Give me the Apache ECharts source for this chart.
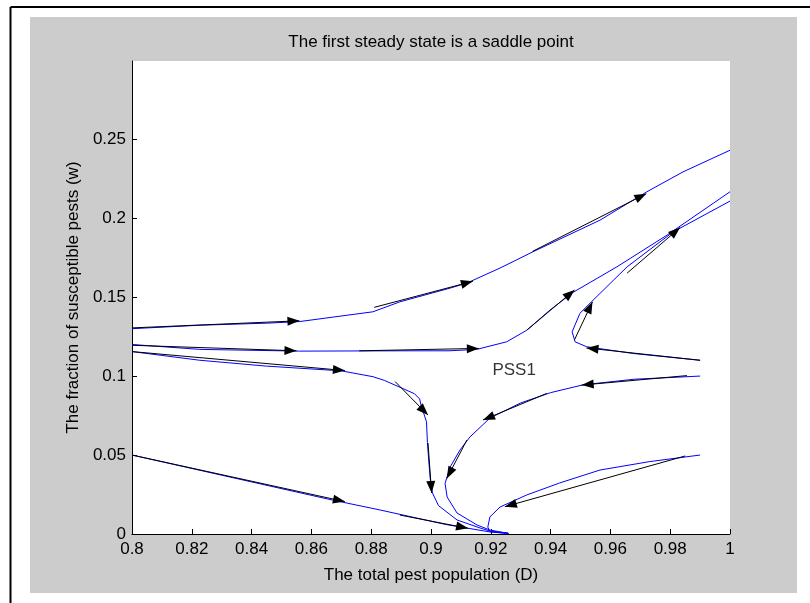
<!DOCTYPE html>
<html>
<head>
<meta charset="utf-8">
<script src="https://cdn.jsdelivr.net/npm/echarts@6/dist/echarts.min.js"></script>
<style>
html,body{margin:0;padding:0;background:#fff;}
#chart{width:810px;height:603px;}
</style>
</head>
<body>
<div id="chart"></div>
<script>
// ---- data ----
var titleText = 'The first steady state is a saddle point';
var xName = 'The total pest population (D)';
var yName = 'The fraction of susceptible pests (w)';
var xTicks = [0.8, 0.82, 0.84, 0.86, 0.88, 0.9, 0.92, 0.94, 0.96, 0.98, 1];
var yTicks = [0, 0.05, 0.1, 0.15, 0.2, 0.25];

var curveA = [[0.8,0.13],[0.8227,0.1322],[0.845,0.1335],[0.856,0.1345],[0.8806,0.1407],[0.8896,0.147],[0.9064,0.1557],[0.912,0.1589],[0.9231,0.1684],[0.9341,0.1787],[0.9565,0.1987],[0.9722,0.2167],[0.9843,0.2293],[1.0,0.243]];
var curveB = [[0.8,0.12],[0.8227,0.1169],[0.856,0.1158],[0.89,0.116],[0.906,0.116],[0.9153,0.1169],[0.9253,0.1217],[0.932,0.129],[0.9398,0.1418],[0.9475,0.153],[0.9622,0.1692],[0.9789,0.1892],[1.0,0.2167]];
var curveC = [[1.0,0.2108],[0.981,0.1913],[0.9656,0.1692],[0.9542,0.148],[0.9498,0.1397],[0.9472,0.128],[0.9482,0.1217],[0.952,0.1186],[0.9676,0.1143],[0.99,0.11]];
var curveD = [[0.8,0.1155],[0.8227,0.110],[0.845,0.1063],[0.87,0.1033],[0.8806,0.0996],[0.8845,0.0972],[0.8945,0.0888],[0.8962,0.0855],[0.8967,0.0815],[0.8985,0.071],[0.8988,0.058],[0.8993,0.045],[0.8998,0.034],[0.9005,0.026],[0.9025,0.018],[0.9087,0.0089],[0.9164,0.0038],[0.9197,0.0019],[0.9258,0.0006]];
var curveE = [[0.99,0.1],[0.968,0.098],[0.951,0.0945],[0.94,0.0895],[0.93,0.083],[0.9197,0.0734],[0.913,0.0614],[0.9097,0.0532],[0.9064,0.0424],[0.9047,0.032],[0.9054,0.0234],[0.9087,0.0133],[0.9154,0.0057],[0.9197,0.0025],[0.9258,0.0004]];
var curveF = [[0.8,0.05],[0.867,0.0215],[0.883,0.0152],[0.905,0.006],[0.9197,0.0013],[0.926,0.0003]];
var curveG = [[0.99,0.05],[0.973,0.0458],[0.9565,0.0405],[0.943,0.0323],[0.932,0.0247],[0.9231,0.0171],[0.9197,0.0108],[0.919,0.0044],[0.9197,0.0015],[0.9258,0.0003]];

// arrows: [xStart, yStart, xEnd(tip), yEnd(tip)]
var arrows = [
  [0.8,0.1305,0.856,0.135],
  [0.881,0.1435,0.914,0.16],
  [0.934,0.179,0.972,0.2155],
  [0.8,0.1195,0.855,0.116],
  [0.876,0.116,0.916,0.1175],
  [0.932,0.129,0.948,0.1545],
  [0.99,0.11,0.952,0.1178],
  [0.948,0.123,0.954,0.147],
  [0.9656,0.1652,0.9833,0.194],
  [0.8,0.1155,0.8712,0.1035],
  [0.888,0.0965,0.899,0.0753],
  [0.899,0.0576,0.9002,0.026],
  [0.9856,0.1003,0.9504,0.0943],
  [0.9387,0.089,0.9174,0.0722],
  [0.912,0.0595,0.9053,0.0352],
  [0.8,0.05,0.8712,0.0205],
  [0.8896,0.012,0.9124,0.0036],
  [0.985,0.0494,0.9247,0.0173]
];
var pssLabel = {text: 'PSS1', x: 0.9278, y: 0.1035};

// ---- chart ----
var FONT = '"Liberation Sans", Arial, sans-serif';
// filled triangular head whose tip sits at the symbol centre (points "up" = along the line)
var ARROW_HEAD = 'path://M0,0L0,0M24,24L24,24M12,12L16.5,24L7.5,24Z';
var chart = echarts.init(document.getElementById('chart'), null, {renderer: 'canvas'});
var curves = [curveA, curveB, curveC, curveD, curveE, curveF, curveG];
var series = curves.map(function (c, i) {
  return {
    type: 'line', name: 'traj' + i, data: c, showSymbol: false, symbol: 'none',
    lineStyle: {color: '#0000ff', width: 1}, z: 3, silent: true, animation: false
  };
});
series.push({
  type: 'lines', coordinateSystem: 'cartesian2d', z: 4, animation: false, silent: true,
  symbol: ['none', ARROW_HEAD], symbolSize: 24,
  lineStyle: {color: '#000', width: 1, opacity: 1},
  itemStyle: {color: '#000'},
  data: arrows.map(function (a) { return {coords: [[a[0], a[1]], [a[2], a[3]]]}; })
});
series.push({
  type: 'scatter', data: [[pssLabel.x, pssLabel.y]], symbolSize: 0, z: 5, silent: true, animation: false,
  label: {show: true, position: 'inside', formatter: pssLabel.text, color: '#000', fontSize: 17, fontFamily: FONT}
});

var option = {
  backgroundColor: '#ffffff',
  animation: false,
  graphic: [
    {type: 'rect', z: -10, shape: {x: 30, y: 17, width: 767, height: 576}, style: {fill: '#cccccc'}},
    {type: 'line', z: -10, shape: {x1: 10.5, y1: 7, x2: 10.5, y2: 603}, style: {stroke: '#000', lineWidth: 2}},
    {type: 'line', z: -10, shape: {x1: 10.5, y1: 7, x2: 810, y2: 7}, style: {stroke: '#000', lineWidth: 2}},
    {type: 'text', z: 10, x: 431, y: 42, style: {text: titleText, fill: '#000', font: '17px ' + FONT, textAlign: 'center', textVerticalAlign: 'middle'}}
  ],
  grid: {left: 132, right: 80, top: 61, bottom: 69, show: true, backgroundColor: '#ffffff', borderWidth: 0},
  xAxis: {
    type: 'value', min: 0.8, max: 1, interval: 0.02,
    name: xName, nameLocation: 'middle', nameGap: 33,
    nameTextStyle: {color: '#000', fontSize: 17, fontFamily: FONT},
    axisLine: {show: true, onZero: false, lineStyle: {color: '#000', width: 1}},
    axisTick: {show: true, inside: true, length: 5, lineStyle: {color: '#000'}, customValues: xTicks},
    axisLabel: {color: '#000', fontSize: 17, fontFamily: FONT, margin: 7,
      customValues: xTicks, formatter: function (v) { return String(+v.toFixed(2)); }},
    splitLine: {show: false}
  },
  yAxis: {
    type: 'value', min: 0, max: 0.2995,
    name: yName, nameLocation: 'middle', nameGap: 50,
    nameTextStyle: {color: '#000', fontSize: 17, fontFamily: FONT},
    axisLine: {show: true, onZero: false, lineStyle: {color: '#000', width: 1}},
    axisTick: {show: true, inside: true, length: 5, lineStyle: {color: '#000'}, customValues: yTicks},
    axisLabel: {color: '#000', fontSize: 17, fontFamily: FONT, margin: 6,
      customValues: yTicks, formatter: function (v) { return String(+v.toFixed(2)); }},
    splitLine: {show: false}
  },
  series: series
};
chart.setOption(option);
</script>
</body>
</html>
